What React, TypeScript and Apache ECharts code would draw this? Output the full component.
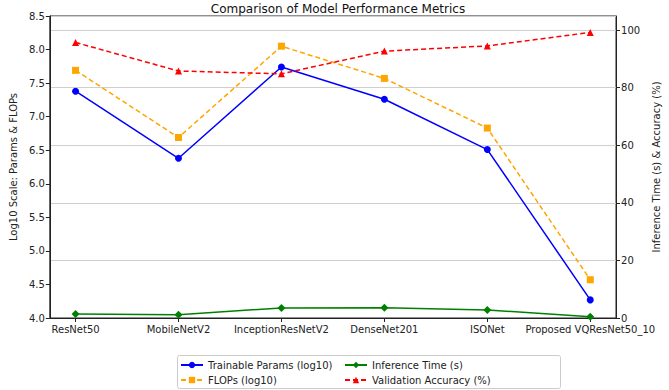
import React, { useEffect, useRef } from "react";
import * as echarts from "echarts";

const categories = ["ResNet50", "MobileNetV2", "InceptionResNetV2", "DenseNet201", "ISONet", "Proposed VQResNet50_10"];
const trainableParams = [7.38, 6.38, 7.74, 7.26, 6.51, 4.27];
const flops = [7.69, 6.69, 8.05, 7.57, 6.83, 4.57];
const inferenceTime = [1.4, 1.15, 3.5, 3.6, 2.8, 0.45];
const valAccuracy = [95.7, 85.8, 84.8, 92.7, 94.5, 99.2];
const leftTicks = [4.0, 4.5, 5.0, 5.5, 6.0, 6.5, 7.0, 7.5, 8.0, 8.5];

const FONT = "DejaVu Sans";

export default function App() {
  const ref = useRef<HTMLDivElement>(null);
  useEffect(() => {
    const chart = echarts.init(ref.current!, null, { renderer: "svg" });
    const pts = (arr: number[]) => arr.map((v, i) => [i, v]);
    const idx = categories.map((_, i) => i);
    const legendText = { fontFamily: FONT, fontSize: 10, color: "#222", lineHeight: 12 };
    const legendBase = {
      orient: "vertical",
      top: 359,
      padding: 0,
      itemGap: 3,
      itemWidth: 22,
      itemHeight: 8,
      textStyle: legendText,
    };
    chart.setOption({
      animation: false,
      textStyle: { fontFamily: FONT },
      title: {
        text: "Comparison of Model Performance Metrics",
        left: 333,
        textAlign: "center",
        top: -2,
        textStyle: { fontFamily: FONT, fontSize: 12, fontWeight: "normal", color: "#111" },
      },
      grid: { left: 36, right: 38, top: 16, bottom: 72, show: true, borderColor: "#222", borderWidth: 1, backgroundColor: "transparent" },
      legend: [
        { ...legendBase, left: 180, data: ["Trainable Params (log10)", "FLOPs (log10)"] },
        { ...legendBase, left: 344, data: ["Inference Time (s)", "Validation Accuracy (%)"] },
      ],
      graphic: [
        {
          type: "rect",
          shape: { x: 177.5, y: 355.5, width: 383, height: 33, r: 2 },
          style: { fill: "rgba(255,255,255,0.8)", stroke: "#ccc", lineWidth: 1 },
          z: -1,
        },
      ],
      xAxis: {
        type: "value",
        min: -0.25,
        max: 5.25,
        splitLine: { show: false },
        axisLine: { onZero: false, lineStyle: { color: "#222" } },
        axisTick: { show: true, customValues: idx, length: 4, lineStyle: { color: "#222" } },
        axisLabel: {
          customValues: idx,
          formatter: (v: number) => categories[Math.round(v)] ?? "",
          fontFamily: FONT,
          fontSize: 10,
          color: "#222",
          margin: 6,
        },
      },
      yAxis: [
        {
          type: "value",
          min: 4,
          max: 8.5,
          interval: 0.5,
          name: "Log10 Scale: Params & FLOPs",
          nameLocation: "middle",
          nameGap: 24,
          nameTextStyle: { fontFamily: FONT, fontSize: 10, color: "#222" },
          splitLine: { show: false },
          axisLine: { show: true, onZero: false, lineStyle: { color: "#222" } },
          axisTick: { show: true, length: 4, lineStyle: { color: "#222" } },
          axisLabel: {
            formatter: (v: number) => v.toFixed(1),
            fontFamily: FONT,
            fontSize: 10,
            color: "#222",
            margin: 5,
            customValues: leftTicks,
          },
        },
        {
          type: "value",
          min: 0,
          max: 104.9,
          interval: 20,
          position: "right",
          name: "Inference Time (s) & Accuracy (%)",
          nameLocation: "middle",
          nameGap: 24,
          nameRotate: 90,
          nameTextStyle: { fontFamily: FONT, fontSize: 10, color: "#222" },
          splitLine: { show: true, lineStyle: { color: "#cfcfcf", width: 1.2 } },
          axisLine: { show: true, onZero: false, lineStyle: { color: "#222" } },
          axisTick: { show: true, length: 4, lineStyle: { color: "#222" } },
          axisLabel: { fontFamily: FONT, fontSize: 10, color: "#222", margin: 5, showMaxLabel: false },
        },
      ],
      series: [
        {
          name: "Trainable Params (log10)",
          type: "line",
          yAxisIndex: 0,
          data: pts(trainableParams),
          symbol: "circle",
          symbolSize: 7,
          itemStyle: { color: "#0000ff" },
          lineStyle: { color: "#0000ff", width: 1.5 },
          z: 3,
        },
        {
          name: "FLOPs (log10)",
          type: "line",
          yAxisIndex: 0,
          data: pts(flops),
          symbol: "rect",
          symbolSize: 7,
          itemStyle: { color: "#ffa500" },
          lineStyle: { color: "#ffa500", width: 1.5, type: [5, 3] },
          z: 3,
        },
        {
          name: "Inference Time (s)",
          type: "line",
          yAxisIndex: 1,
          data: pts(inferenceTime),
          symbol: "diamond",
          symbolSize: 8,
          itemStyle: { color: "#008000" },
          lineStyle: { color: "#008000", width: 1.5 },
          z: 3,
        },
        {
          name: "Validation Accuracy (%)",
          type: "line",
          yAxisIndex: 1,
          data: pts(valAccuracy),
          symbol: "triangle",
          symbolSize: 7,
          itemStyle: { color: "#ff0000" },
          lineStyle: { color: "#ff0000", width: 1.5, type: [5, 3] },
          z: 3,
        },
      ],
    });
    return () => chart.dispose();
  }, []);
  return <div ref={ref} style={{ width: 669, height: 390, position: "absolute", left: 0, top: 0 }} />;
}
